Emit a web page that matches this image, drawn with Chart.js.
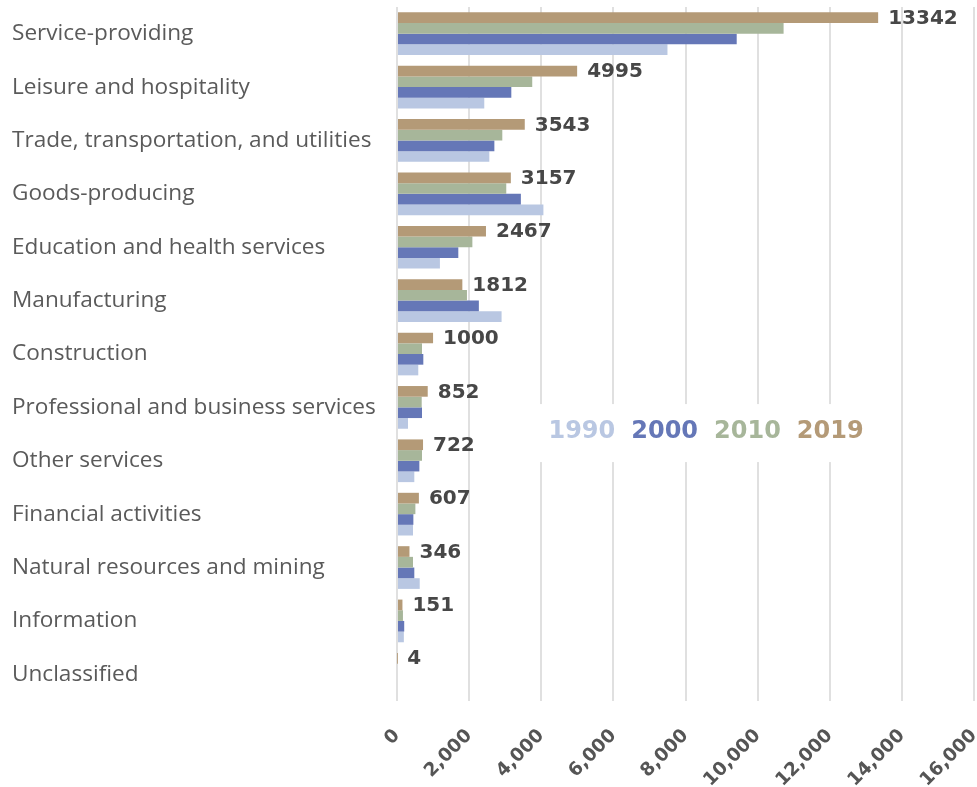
<!DOCTYPE html>
<html>
<head>
<meta charset="utf-8">
<script src="https://cdn.jsdelivr.net/npm/chart.js@4.4.0/dist/chart.umd.min.js"></script>
<style>
  html, body { margin: 0; padding: 0; background: #fff; }
  #wrap { width: 977px; height: 787px; position: relative; }
</style>
</head>
<body>
<div id="wrap"><canvas id="chart"></canvas></div>
<script>
// Employment by industry, thousands
const categories = [
    'Service-providing',
    'Leisure and hospitality',
    'Trade, transportation, and utilities',
    'Goods-producing',
    'Education and health services',
    'Manufacturing',
    'Construction',
    'Professional and business services',
    'Other services',
    'Financial activities',
    'Natural resources and mining',
    'Information',
    'Unclassified'
];
const years = ['1990', '2000', '2010', '2019'];
const values1990 = [7500, 2420, 2560, 4060, 1190, 2900, 590, 305, 480, 444, 630, 190, 0];
const values2000 = [9420, 3170, 2700, 3435, 1700, 2270, 730, 694, 620, 454, 480, 200, 0];
const values2010 = [10720, 3750, 2920, 3030, 2090, 1940, 694, 685, 694, 510, 444, 165, 0];
const values2019 = [13342, 4995, 3543, 3157, 2467, 1812, 1000, 852, 722, 607, 346, 151, 4];
const xTicks = [0, 2000, 4000, 6000, 8000, 10000, 12000, 14000, 16000];

const COLORS = {
    y1990: '#b9c7e2',
    y2000: '#6577b7',
    y2010: '#a7b69a',
    y2019: '#b49a77'
};

const LABEL_FONT = "'Open Sans', sans-serif";
const NUM_FONT = "'DejaVu Sans', sans-serif";

// value labels at the end of the 2019 bars
const valueLabels = {
    id: 'valueLabels',
    afterDatasetsDraw(chart) {
        const ctx = chart.ctx;
        const meta = chart.getDatasetMeta(0);
        ctx.save();
        ctx.font = `bold 20px ${NUM_FONT}`;
        ctx.fillStyle = '#474747';
        ctx.textAlign = 'left';
        ctx.textBaseline = 'middle';
        meta.data.forEach((bar, i) => {
            ctx.fillText(String(values2019[i]), bar.x + 10, bar.y + 1);
        });
        ctx.restore();
    }
};

// year legend sitting inside the plot, text only, on a white patch
const yearLegend = {
    id: 'yearLegend',
    afterDatasetsDraw(chart) {
        const ctx = chart.ctx;
        const xs = chart.scales.x;
        const ys = chart.scales.y;
        const items = [
            { text: years[0], color: COLORS.y1990 },
            { text: years[1], color: COLORS.y2000 },
            { text: years[2], color: COLORS.y2010 },
            { text: years[3], color: COLORS.y2019 }
        ];
        const cy = ys.getPixelForValue(7.5) - 3;
        let x = xs.getPixelForValue(4200);
        ctx.save();
        ctx.font = `bold 24px ${NUM_FONT}`;
        const gap = 16;
        const total = items.reduce((s, it) => s + ctx.measureText(it.text).width, 0) + gap * 3;
        ctx.fillStyle = '#fff';
        ctx.fillRect(x - 20, cy - 27, total + 40, 58);
        ctx.textAlign = 'left';
        ctx.textBaseline = 'middle';
        items.forEach(it => {
            ctx.fillStyle = it.color;
            ctx.fillText(it.text, x, cy + 1);
            x += ctx.measureText(it.text).width + gap;
        });
        ctx.restore();
    }
};

new Chart(document.getElementById('chart'), {
    type: 'bar',
    data: {
        labels: categories,
        datasets: [
            { label: '2019', data: values2019, backgroundColor: COLORS.y2019 },
            { label: '2010', data: values2010, backgroundColor: COLORS.y2010 },
            { label: '2000', data: values2000, backgroundColor: COLORS.y2000 },
            { label: '1990', data: values1990, backgroundColor: COLORS.y1990 }
        ]
    },
    options: {
        indexAxis: 'y',
        responsive: true,
        maintainAspectRatio: false,
        animation: false,
        layout: { padding: { left: 12, right: 3, top: 7, bottom: 0 } },
        datasets: {
            bar: { categoryPercentage: 0.8, barPercentage: 1.0, borderWidth: 0 }
        },
        plugins: {
            legend: { display: false },
            tooltip: { enabled: false }
        },
        scales: {
            x: {
                min: 0,
                max: 16000,
                afterBuildTicks: (scale) => { scale.ticks = xTicks.map(v => ({ value: v })); },
                afterFit: (scale) => {
                    scale.height = 86;
                    scale.paddingLeft = 0;
                    scale.paddingRight = 0;
                },
                grid: { color: '#e0e0e0', lineWidth: 2, drawTicks: false },
                border: { display: false },
                ticks: {
                    minRotation: 45,
                    maxRotation: 45,
                    padding: 24,
                    color: '#555',
                    font: { family: NUM_FONT, size: 18.5, weight: 'bold' },
                    callback: (v) => v.toLocaleString('en-US')
                }
            },
            y: {
                afterFit: (scale) => {
                    scale.width = 385;
                    scale.paddingTop = 0;
                    scale.paddingBottom = 0;
                },
                grid: { display: false },
                border: { display: false },
                ticks: {
                    crossAlign: 'far',
                    color: '#5a5a5a',
                    font: { family: LABEL_FONT, size: 22.6 }
                }
            }
        }
    },
    plugins: [valueLabels, yearLegend]
});
</script>
</body>
</html>
